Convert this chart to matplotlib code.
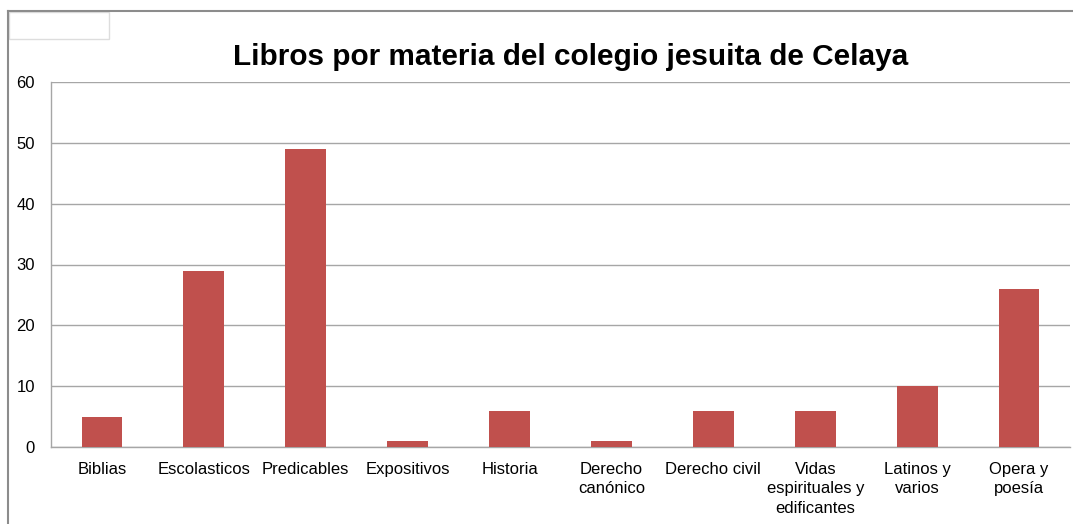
import matplotlib
matplotlib.use("Agg")
import matplotlib.pyplot as plt
from matplotlib.patches import Rectangle
from matplotlib.lines import Line2D

categories = ["Biblias", "Escolasticos", "Predicables", "Expositivos", "Historia",
              "Derecho\ncanónico", "Derecho civil", "Vidas\nespirituales y\nedificantes",
              "Latinos y\nvarios", "Opera y\npoesía"]
values = [5, 29, 49, 1, 6, 1, 6, 6, 10, 26]
yticks = [0, 10, 20, 30, 40, 50, 60]
title = "Libros por materia del colegio jesuita de Celaya"

plt.rcParams['font.family'] = ['Liberation Sans', 'DejaVu Sans']

W, H = 1073, 524
fig = plt.figure(figsize=(W / 100, H / 100), dpi=100)
fig.patch.set_facecolor("white")

ax = fig.add_axes([51 / W, 1 - 447 / H, (1070 - 51) / W, (447 - 82) / H])
x = list(range(len(categories)))
ax.bar(x, values, width=0.4, color="#C0504D", zorder=3)
ax.set_xlim(-0.5, len(categories) - 0.5)
ax.set_ylim(0, 60)
ax.set_yticks(yticks)
ax.set_xticks(x)
ax.set_xticklabels(categories, fontsize=12, linespacing=1.35)
ax.tick_params(axis="both", length=0, labelsize=12, colors="black")
ax.tick_params(axis="y", pad=11.5)
ax.tick_params(axis="x", pad=11)
ax.yaxis.grid(True, color="#A6A6A6", linewidth=1, zorder=0)
for s in ["top", "right"]:
    ax.spines[s].set_visible(False)
for s in ["left", "bottom"]:
    ax.spines[s].set_color("#A6A6A6")
    ax.spines[s].set_linewidth(1)

fig.suptitle(title, x=571 / W, y=1 - 57 / H, va="center", fontsize=21.4, fontweight="bold")

# outer chart frame (partial, as in screenshot)
fig.add_artist(Line2D([8 / W, 8 / W], [0, 1 - 11 / H], transform=fig.transFigure,
                      color="#8C8C8C", linewidth=1.5))
fig.add_artist(Line2D([8 / W, 1], [1 - 11 / H, 1 - 11 / H], transform=fig.transFigure,
                      color="#8C8C8C", linewidth=1.5))
fig.add_artist(Rectangle((9 / W, 1 - 39 / H), 100 / W, 27 / H, transform=fig.transFigure,
                         facecolor="white", edgecolor="#DDDDDD", linewidth=1))

fig.savefig("out.png", dpi=100)
